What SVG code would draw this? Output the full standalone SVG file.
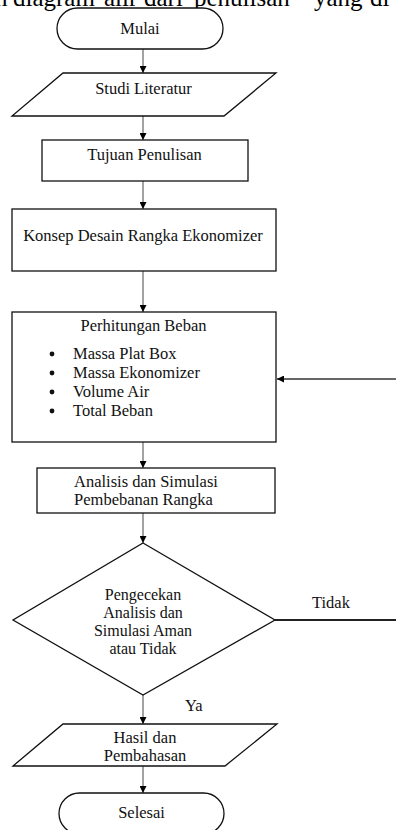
<svg xmlns="http://www.w3.org/2000/svg" width="396" height="830" viewBox="0 0 396 830">
<defs>
<marker id="arr" markerWidth="7" markerHeight="7" refX="7" refY="3.5" orient="auto" markerUnits="userSpaceOnUse">
<path d="M0,0 L7,3.5 L0,7 z" fill="#000"/>
</marker>
<style>
.shape{fill:#fff;stroke:#111;stroke-width:1.3}
.t{font-family:"Liberation Serif","Times New Roman",serif;font-size:16.5px;fill:#111}
.d{font-size:16px}
.c{text-anchor:middle}
.top{font-family:"Liberation Serif","Times New Roman",serif;font-size:25px;fill:#000}
.conn{stroke:#666;stroke-width:1.2;fill:none}
.connd{stroke:#333;stroke-width:1.3;fill:none}
.thick{stroke:#222;stroke-width:2;fill:none}
</style>
</defs>
<rect width="396" height="830" fill="#fff"/>
<g id="heading">
<text class="top" x="-5" y="6">n</text>
<text class="top" x="13" y="6">diagram</text>
<text class="top" x="104" y="6">alir</text>
<text class="top" x="144" y="6">dari</text>
<text class="top" x="194" y="6">penulisan</text>
<text class="top" x="314" y="6">yang</text>
<text class="top" x="370" y="6">di</text>
</g>
<g id="connectors">
<line class="conn" x1="143" y1="49" x2="143" y2="73" marker-end="url(#arr)"/>
<line class="conn" x1="143" y1="116" x2="143" y2="140" marker-end="url(#arr)"/>
<line class="conn" x1="143" y1="181" x2="143" y2="209" marker-end="url(#arr)"/>
<line class="conn" x1="143" y1="271" x2="143" y2="312" marker-end="url(#arr)"/>
<line class="conn" x1="143" y1="442" x2="143" y2="468" marker-end="url(#arr)"/>
<line class="conn" x1="143" y1="513" x2="143" y2="543" marker-end="url(#arr)"/>
<line class="conn" x1="143" y1="695" x2="143" y2="724" marker-end="url(#arr)"/>
<line class="conn" x1="143" y1="766" x2="143" y2="793" marker-end="url(#arr)"/>
<line class="connd" x1="396" y1="379" x2="277" y2="379" marker-end="url(#arr)"/>
<line class="thick" x1="275" y1="620" x2="396" y2="620"/>
<text class="t c" x="331" y="608">Tidak</text>
<text class="t" x="185" y="711">Ya</text>
</g>
<g id="mulai">
<rect class="shape" x="57" y="8" width="166" height="41" rx="20.5" ry="20.5"/>
<text class="t c" x="140" y="34">Mulai</text>
</g>
<g id="studi-literatur">
<polygon class="shape" points="63,73 276,73 224,116 12,116"/>
<text class="t c" x="143.5" y="94">Studi Literatur</text>
</g>
<g id="tujuan-penulisan">
<rect class="shape" x="42" y="140" width="206" height="41"/>
<text class="t c" x="144.5" y="160">Tujuan Penulisan</text>
</g>
<g id="konsep-desain">
<rect class="shape" x="12" y="209" width="264" height="62"/>
<text class="t c" x="143" y="240.5">Konsep Desain Rangka Ekonomizer</text>
</g>
<g id="perhitungan-beban">
<rect class="shape" x="12" y="312" width="264" height="130"/>
<text class="t c" x="143.5" y="330.5">Perhitungan Beban</text>
<circle cx="52" cy="354" r="2.4" fill="#111"/>
<circle cx="52" cy="373" r="2.4" fill="#111"/>
<circle cx="52" cy="392" r="2.4" fill="#111"/>
<circle cx="52" cy="411" r="2.4" fill="#111"/>
<text class="t" x="73" y="359">Massa Plat Box</text>
<text class="t" x="73" y="378">Massa Ekonomizer</text>
<text class="t" x="73" y="397">Volume Air</text>
<text class="t" x="73" y="416">Total Beban</text>
</g>
<g id="analisis-simulasi">
<rect class="shape" x="37" y="468" width="238" height="45"/>
<text class="t c" x="146" y="486.5">Analisis dan Simulasi</text>
<text class="t c" x="143.5" y="504.5">Pembebanan Rangka</text>
</g>
<g id="pengecekan">
<polygon class="shape" points="143,543 275,620 143,695 13,620"/>
<text class="t d c" x="143" y="600">Pengecekan</text>
<text class="t d c" x="143" y="618">Analisis dan</text>
<text class="t d c" x="143" y="636">Simulasi Aman</text>
<text class="t d c" x="143" y="654">atau Tidak</text>
</g>
<g id="hasil-pembahasan">
<polygon class="shape" points="63,724 277,724 225,766 13,766"/>
<text class="t c" x="145" y="743">Hasil dan</text>
<text class="t c" x="145" y="760.5">Pembahasan</text>
</g>
<g id="selesai">
<rect class="shape" x="59" y="793" width="165" height="41" rx="20.5" ry="20.5"/>
<text class="t c" x="141.5" y="818">Selesai</text>
</g>
</svg>
